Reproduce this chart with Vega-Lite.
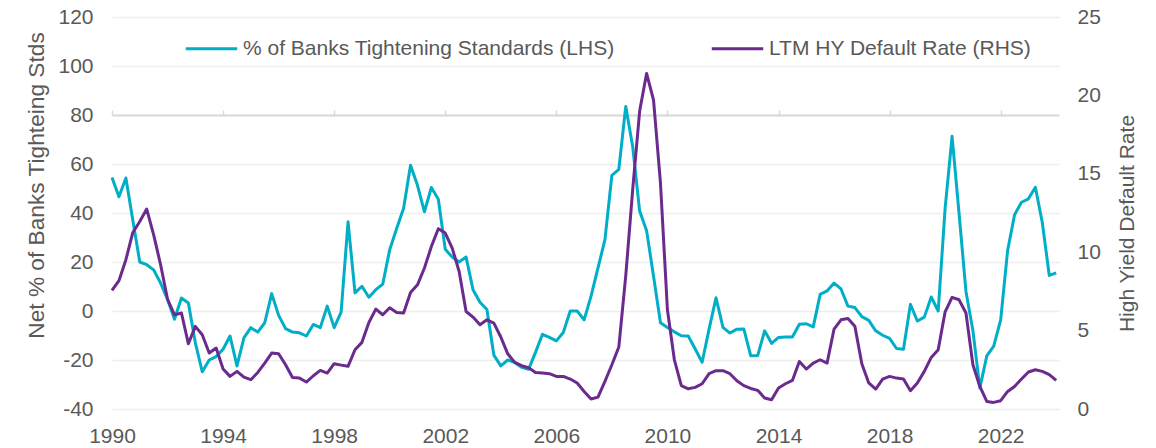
{
  "$schema": "https://vega.github.io/schema/vega-lite/v6.json",
  "width": 947,
  "height": 392,
  "autosize": "none",
  "padding": {"left": 112, "top": 17, "right": 97, "bottom": 39},
  "config": {
    "view": {"stroke": null},
    "font": "Liberation Sans",
    "axis": {"labelFont": "Liberation Sans", "titleFont": "Liberation Sans", "labelColor": "#595959", "titleColor": "#595959", "titleFontWeight": "normal", "labelFontSize": 21, "titleFontSize": 21},
    "legend": {"labelFont": "Liberation Sans"}
  },
  "data": {"values": [
    {"t": 1990, "banks": 54.5, "hy": 7.56}, {"t": 1990.25, "banks": 46.6, "hy": 8.18}, {"t": 1990.5, "banks": 54.3, "hy": 9.52}, {"t": 1990.75, "banks": 37, "hy": 11.26},
    {"t": 1991, "banks": 20, "hy": 11.96}, {"t": 1991.25, "banks": 18.9, "hy": 12.75}, {"t": 1991.5, "banks": 16.8, "hy": 11.11}, {"t": 1991.75, "banks": 11.4, "hy": 9.2},
    {"t": 1992, "banks": 4.7, "hy": 7.0}, {"t": 1992.25, "banks": -3.4, "hy": 6.0}, {"t": 1992.5, "banks": 5.3, "hy": 6.12}, {"t": 1992.75, "banks": 3.3, "hy": 4.16},
    {"t": 1993, "banks": -12.9, "hy": 5.27}, {"t": 1993.25, "banks": -24.8, "hy": 4.74}, {"t": 1993.5, "banks": -20, "hy": 3.57}, {"t": 1993.75, "banks": -18.6, "hy": 3.89},
    {"t": 1994, "banks": -15.6, "hy": 2.55}, {"t": 1994.25, "banks": -10.2, "hy": 2.08}, {"t": 1994.5, "banks": -22.4, "hy": 2.4}, {"t": 1994.75, "banks": -11, "hy": 2.03},
    {"t": 1995, "banks": -6.8, "hy": 1.87}, {"t": 1995.25, "banks": -8.6, "hy": 2.33}, {"t": 1995.5, "banks": -4.8, "hy": 2.93}, {"t": 1995.75, "banks": 7.1, "hy": 3.57},
    {"t": 1996, "banks": -1.8, "hy": 3.52}, {"t": 1996.25, "banks": -7.2, "hy": 2.82}, {"t": 1996.5, "banks": -8.6, "hy": 2.01}, {"t": 1996.75, "banks": -8.9, "hy": 1.97},
    {"t": 1997, "banks": -10.2, "hy": 1.72}, {"t": 1997.25, "banks": -5.5, "hy": 2.12}, {"t": 1997.5, "banks": -6.8, "hy": 2.46}, {"t": 1997.75, "banks": 2.0, "hy": 2.29},
    {"t": 1998, "banks": -6.8, "hy": 2.89}, {"t": 1998.25, "banks": -0.5, "hy": 2.8}, {"t": 1998.5, "banks": 36.4, "hy": 2.72}, {"t": 1998.75, "banks": 7.4, "hy": 3.78},
    {"t": 1999, "banks": 10.1, "hy": 4.25}, {"t": 1999.25, "banks": 5.6, "hy": 5.52}, {"t": 1999.5, "banks": 8.7, "hy": 6.37}, {"t": 1999.75, "banks": 11, "hy": 6.01},
    {"t": 2000, "banks": 25, "hy": 6.46}, {"t": 2000.25, "banks": 33.7, "hy": 6.16}, {"t": 2000.5, "banks": 41.9, "hy": 6.12}, {"t": 2000.75, "banks": 59.5, "hy": 7.43},
    {"t": 2001, "banks": 51.3, "hy": 7.92}, {"t": 2001.25, "banks": 40.5, "hy": 8.99}, {"t": 2001.5, "banks": 50.4, "hy": 10.36}, {"t": 2001.75, "banks": 45.6, "hy": 11.5},
    {"t": 2002, "banks": 25.2, "hy": 11.22}, {"t": 2002.25, "banks": 22, "hy": 10.26}, {"t": 2002.5, "banks": 20, "hy": 8.77}, {"t": 2002.75, "banks": 22, "hy": 6.22},
    {"t": 2003, "banks": 8.7, "hy": 5.86}, {"t": 2003.25, "banks": 3.6, "hy": 5.37}, {"t": 2003.5, "banks": 0.6, "hy": 5.69}, {"t": 2003.75, "banks": -18, "hy": 5.48},
    {"t": 2004, "banks": -22.4, "hy": 4.59}, {"t": 2004.25, "banks": -20, "hy": 3.52}, {"t": 2004.5, "banks": -21, "hy": 2.97}, {"t": 2004.75, "banks": -23, "hy": 2.76},
    {"t": 2005, "banks": -23.8, "hy": 2.63}, {"t": 2005.25, "banks": -16.9, "hy": 2.33}, {"t": 2005.5, "banks": -9.5, "hy": 2.29}, {"t": 2005.75, "banks": -10.8, "hy": 2.25},
    {"t": 2006, "banks": -12.2, "hy": 2.08}, {"t": 2006.25, "banks": -8.8, "hy": 2.08}, {"t": 2006.5, "banks": 0, "hy": 1.91}, {"t": 2006.75, "banks": 0, "hy": 1.66},
    {"t": 2007, "banks": -3.6, "hy": 1.12}, {"t": 2007.25, "banks": 6.1, "hy": 0.64}, {"t": 2007.5, "banks": 17.6, "hy": 0.76}, {"t": 2007.75, "banks": 29.1, "hy": 1.76},
    {"t": 2008, "banks": 55.4, "hy": 2.82}, {"t": 2008.25, "banks": 57.8, "hy": 3.95}, {"t": 2008.5, "banks": 83.5, "hy": 8.5}, {"t": 2008.75, "banks": 67, "hy": 14},
    {"t": 2009, "banks": 40.8, "hy": 19.0}, {"t": 2009.25, "banks": 32.8, "hy": 21.4}, {"t": 2009.5, "banks": 14.2, "hy": 19.7}, {"t": 2009.75, "banks": -4.8, "hy": 14.4},
    {"t": 2010, "banks": -6.7, "hy": 6.33}, {"t": 2010.25, "banks": -8.5, "hy": 3.14}, {"t": 2010.5, "banks": -10.1, "hy": 1.49}, {"t": 2010.75, "banks": -10.2, "hy": 1.29},
    {"t": 2011, "banks": -15.5, "hy": 1.38}, {"t": 2011.25, "banks": -20.9, "hy": 1.61}, {"t": 2011.5, "banks": -7.4, "hy": 2.25}, {"t": 2011.75, "banks": 5.4, "hy": 2.44},
    {"t": 2012, "banks": -6.7, "hy": 2.44}, {"t": 2012.25, "banks": -9.0, "hy": 2.25}, {"t": 2012.5, "banks": -7.4, "hy": 1.8}, {"t": 2012.75, "banks": -7.3, "hy": 1.49},
    {"t": 2013, "banks": -18.3, "hy": 1.31}, {"t": 2013.25, "banks": -18.2, "hy": 1.19}, {"t": 2013.5, "banks": -8.1, "hy": 0.7}, {"t": 2013.75, "banks": -13.2, "hy": 0.59},
    {"t": 2014, "banks": -10.8, "hy": 1.34}, {"t": 2014.25, "banks": -10.6, "hy": 1.61}, {"t": 2014.5, "banks": -10.6, "hy": 1.82}, {"t": 2014.75, "banks": -5.4, "hy": 3.03},
    {"t": 2015, "banks": -5.2, "hy": 2.55}, {"t": 2015.25, "banks": -6.5, "hy": 2.93}, {"t": 2015.5, "banks": 6.8, "hy": 3.14}, {"t": 2015.75, "banks": 8.2, "hy": 2.93},
    {"t": 2016, "banks": 11.4, "hy": 5.1}, {"t": 2016.25, "banks": 9.0, "hy": 5.69}, {"t": 2016.5, "banks": 2.0, "hy": 5.77}, {"t": 2016.75, "banks": 1.4, "hy": 5.27},
    {"t": 2017, "banks": -2.3, "hy": 2.89}, {"t": 2017.25, "banks": -3.8, "hy": 1.66}, {"t": 2017.5, "banks": -8.1, "hy": 1.27}, {"t": 2017.75, "banks": -9.9, "hy": 1.91},
    {"t": 2018, "banks": -11.2, "hy": 2.08}, {"t": 2018.25, "banks": -15.3, "hy": 1.97}, {"t": 2018.5, "banks": -15.6, "hy": 1.91}, {"t": 2018.75, "banks": 2.7, "hy": 1.17},
    {"t": 2019, "banks": -4.1, "hy": 1.66}, {"t": 2019.25, "banks": -2.5, "hy": 2.4}, {"t": 2019.5, "banks": 5.7, "hy": 3.29}, {"t": 2019.75, "banks": 0, "hy": 3.78},
    {"t": 2020, "banks": 42, "hy": 6.2}, {"t": 2020.25, "banks": 71.3, "hy": 7.12}, {"t": 2020.5, "banks": 40, "hy": 6.97}, {"t": 2020.75, "banks": 8, "hy": 6.12},
    {"t": 2021, "banks": -8, "hy": 2.82}, {"t": 2021.25, "banks": -31.5, "hy": 1.44}, {"t": 2021.5, "banks": -18.3, "hy": 0.48}, {"t": 2021.75, "banks": -14.3, "hy": 0.42},
    {"t": 2022, "banks": -3.6, "hy": 0.53}, {"t": 2022.25, "banks": 24.7, "hy": 1.12}, {"t": 2022.5, "banks": 39.3, "hy": 1.44}, {"t": 2022.75, "banks": 44.4, "hy": 1.91},
    {"t": 2023, "banks": 45.8, "hy": 2.36}, {"t": 2023.25, "banks": 50.5, "hy": 2.5}, {"t": 2023.5, "banks": 36, "hy": 2.4}, {"t": 2023.75, "banks": 14.5, "hy": 2.19},
    {"t": 2024, "banks": 15.6, "hy": 1.82}
  ]},
  "layer": [
    {
      "mark": {"type": "line", "strokeWidth": 3, "strokeJoin": "round"},
      "encoding": {
        "x": {"field": "t", "type": "quantitative", "scale": {"domain": [1990, 2024.1], "nice": false, "zero": false},
              "axis": {"title": null, "values": [1990, 1994, 1998, 2002, 2006, 2010, 2014, 2018, 2022], "format": "d", "grid": false, "ticks": false, "tickSize": 0, "domain": false, "labelPadding": 16, "labelFlush": false, "labelOverlap": false}},
        "y": {"field": "banks", "type": "quantitative", "scale": {"domain": [-40, 120], "nice": false},
              "axis": {"title": "Net % of Banks Tighteing Stds", "values": [-40, -20, 0, 20, 40, 60, 80, 100, 120], "labelExpr": "'' + datum.value", "grid": true, "gridColor": "#eeeeee", "gridWidth": 1.3, "ticks": false, "tickSize": 0, "domain": false, "labelPadding": 19, "titleFontSize": 22.7, "titleX": -76, "titleY": 168, "titleAngle": -90, "titleAlign": "center", "titleBaseline": "middle"}},
        "color": {"datum": "% of Banks Tightening Standards (LHS)",
                  "scale": {"domain": ["% of Banks Tightening Standards (LHS)", "LTM HY Default Rate (RHS)"], "range": ["#00AEC7", "#6A2A8E"]},
                  "legend": {"orient": "none", "legendX": 72, "legendY": 4, "direction": "horizontal", "title": null, "symbolType": "stroke", "symbolStrokeWidth": 3, "symbolSize": 2650, "labelFontSize": 21, "labelColor": "#595959", "columnPadding": 90, "labelOffset": 4, "padding": 0, "labelLimit": 0}}
      }
    },
    {
      "mark": {"type": "line", "strokeWidth": 3, "strokeJoin": "round"},
      "encoding": {
        "x": {"field": "t", "type": "quantitative",
              "axis": {"title": null, "values": [1990, 1994, 1998, 2002, 2006, 2010, 2014, 2018, 2022], "labels": false, "grid": false, "ticks": true, "tickSize": 5, "tickColor": "#d9d9d9", "tickWidth": 1.5, "domain": true, "domainColor": "#d9d9d9", "domainWidth": 2, "offset": -98}},
        "y": {"field": "hy", "type": "quantitative", "scale": {"domain": [0, 25], "nice": false},
              "axis": {"orient": "right", "title": "High Yield Default Rate", "values": [0, 5, 10, 15, 20, 25], "grid": false, "ticks": false, "tickSize": 0, "domain": false, "labelPadding": 18, "titleX": 68, "titleY": 206, "titleAngle": -90, "titleAlign": "center", "titleBaseline": "middle"}},
        "color": {"datum": "LTM HY Default Rate (RHS)"}
      }
    }
  ],
  "resolve": {"scale": {"y": "independent"}, "axis": {"x": "independent"}}
}
